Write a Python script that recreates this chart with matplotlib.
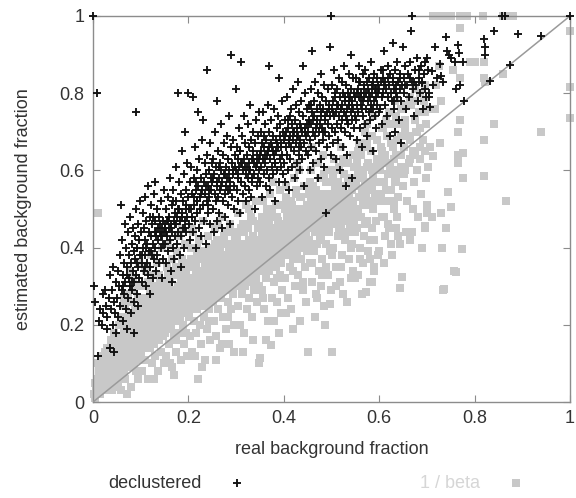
import numpy as np
import matplotlib
matplotlib.use('Agg')
import matplotlib.pyplot as plt

# (real, estimated) pairs, grouped by strips of real fraction
declustered = [
    # 0.00 - 0.05
    (0.002, 0.30), (0.004, 0.26), (0.008, 0.80), (0.010, 0.12), (0.012, 0.21), (0.015, 0.24), (0.018, 0.20),
    (0.020, 0.28), (0.022, 0.23), (0.026, 0.29), (0.028, 0.25), (0.030, 0.22), (0.033, 0.27), (0.035, 0.14),
    (0.036, 0.33), (0.038, 0.24), (0.040, 0.29), (0.042, 0.20), (0.044, 0.26), (0.046, 0.23), (0.048, 0.31),
    (0.049, 0.18), (0.045, 0.13), (0.030, 0.19), (0.041, 0.35), (0.000, 1.00),
    # 0.05 - 0.10
    (0.051, 0.27), (0.052, 0.34), (0.053, 0.22), (0.055, 0.30), (0.056, 0.38), (0.057, 0.25), (0.058, 0.51),
    (0.060, 0.29), (0.061, 0.42), (0.062, 0.33), (0.063, 0.21), (0.065, 0.36), (0.066, 0.28), (0.067, 0.46),
    (0.068, 0.31), (0.069, 0.24), (0.070, 0.40), (0.071, 0.35), (0.072, 0.19), (0.073, 0.44), (0.074, 0.27),
    (0.075, 0.32), (0.076, 0.38), (0.077, 0.30), (0.078, 0.48), (0.079, 0.23), (0.080, 0.36), (0.081, 0.41),
    (0.082, 0.29), (0.083, 0.34), (0.084, 0.45), (0.085, 0.39), (0.086, 0.26), (0.087, 0.31), (0.088, 0.43),
    (0.089, 0.37), (0.090, 0.75), (0.090, 0.50), (0.091, 0.33), (0.092, 0.40), (0.093, 0.28), (0.094, 0.46),
    (0.095, 0.35), (0.096, 0.42), (0.097, 0.32), (0.098, 0.38), (0.099, 0.52), (0.085, 0.18), (0.095, 0.25),
    # 0.10 - 0.15
    (0.101, 0.44), (0.102, 0.36), (0.103, 0.31), (0.104, 0.49), (0.105, 0.40), (0.106, 0.34), (0.107, 0.45),
    (0.108, 0.38), (0.109, 0.53), (0.110, 0.42), (0.111, 0.30), (0.112, 0.47), (0.113, 0.36), (0.114, 0.41),
    (0.115, 0.56), (0.116, 0.33), (0.117, 0.44), (0.118, 0.39), (0.119, 0.48), (0.120, 0.35), (0.121, 0.43),
    (0.122, 0.51), (0.123, 0.38), (0.124, 0.46), (0.125, 0.32), (0.126, 0.41), (0.127, 0.37), (0.128, 0.54),
    (0.129, 0.44), (0.130, 0.40), (0.131, 0.47), (0.132, 0.34), (0.133, 0.43), (0.134, 0.50), (0.135, 0.38),
    (0.136, 0.45), (0.137, 0.42), (0.138, 0.36), (0.139, 0.48), (0.140, 0.44), (0.141, 0.46), (0.142, 0.40),
    (0.143, 0.52), (0.144, 0.45), (0.145, 0.43), (0.146, 0.37), (0.147, 0.47), (0.148, 0.55), (0.149, 0.44),
    (0.130, 0.57), (0.120, 0.28), (0.145, 0.32),
    # 0.15 - 0.20
    (0.150, 0.46), (0.151, 0.41), (0.152, 0.44), (0.153, 0.50), (0.154, 0.36), (0.155, 0.47), (0.156, 0.43),
    (0.157, 0.53), (0.158, 0.39), (0.159, 0.45), (0.160, 0.48), (0.161, 0.42), (0.162, 0.58), (0.163, 0.46),
    (0.164, 0.34), (0.165, 0.51), (0.166, 0.44), (0.167, 0.40), (0.168, 0.55), (0.169, 0.47), (0.170, 0.37),
    (0.171, 0.49), (0.172, 0.43), (0.173, 0.61), (0.174, 0.46), (0.175, 0.52), (0.176, 0.41), (0.177, 0.48),
    (0.178, 0.80), (0.179, 0.44), (0.180, 0.57), (0.181, 0.50), (0.182, 0.38), (0.183, 0.47), (0.184, 0.54),
    (0.185, 0.43), (0.186, 0.65), (0.187, 0.49), (0.188, 0.45), (0.189, 0.52), (0.190, 0.40), (0.191, 0.59),
    (0.192, 0.47), (0.193, 0.70), (0.194, 0.55), (0.195, 0.44), (0.196, 0.50), (0.197, 0.62), (0.198, 0.48),
    (0.199, 0.80), (0.165, 0.31), (0.185, 0.35),
    # 0.20 - 0.25
    (0.200, 0.53), (0.201, 0.46), (0.203, 0.57), (0.204, 0.42), (0.205, 0.50), (0.206, 0.61), (0.207, 0.48),
    (0.208, 0.54), (0.209, 0.79), (0.210, 0.44), (0.211, 0.58), (0.212, 0.51), (0.213, 0.66), (0.214, 0.47),
    (0.215, 0.55), (0.216, 0.40), (0.217, 0.52), (0.218, 0.60), (0.219, 0.49), (0.220, 0.75), (0.221, 0.56),
    (0.222, 0.45), (0.223, 0.63), (0.224, 0.53), (0.225, 0.50), (0.226, 0.58), (0.227, 0.43), (0.228, 0.55),
    (0.229, 0.68), (0.230, 0.51), (0.231, 0.73), (0.232, 0.57), (0.233, 0.47), (0.234, 0.62), (0.235, 0.54),
    (0.236, 0.41), (0.237, 0.59), (0.238, 0.52), (0.239, 0.64), (0.240, 0.86), (0.241, 0.56), (0.242, 0.49),
    (0.243, 0.60), (0.244, 0.53), (0.245, 0.67), (0.246, 0.46), (0.247, 0.58), (0.248, 0.55), (0.249, 0.62),
    # 0.25 - 0.30
    (0.250, 0.57), (0.251, 0.50), (0.252, 0.63), (0.253, 0.44), (0.254, 0.59), (0.255, 0.54), (0.256, 0.70),
    (0.257, 0.52), (0.258, 0.61), (0.259, 0.47), (0.260, 0.78), (0.261, 0.56), (0.262, 0.65), (0.263, 0.53),
    (0.264, 0.58), (0.265, 0.49), (0.266, 0.62), (0.267, 0.55), (0.268, 0.72), (0.269, 0.60), (0.270, 0.45),
    (0.271, 0.57), (0.272, 0.64), (0.273, 0.52), (0.274, 0.59), (0.275, 0.67), (0.276, 0.54), (0.277, 0.48),
    (0.278, 0.61), (0.279, 0.56), (0.280, 0.69), (0.281, 0.58), (0.282, 0.51), (0.283, 0.63), (0.284, 0.55),
    (0.285, 0.74), (0.286, 0.60), (0.287, 0.46), (0.288, 0.57), (0.289, 0.66), (0.290, 0.90), (0.291, 0.53),
    (0.292, 0.62), (0.293, 0.59), (0.294, 0.68), (0.295, 0.56), (0.296, 0.50), (0.297, 0.64), (0.298, 0.61),
    (0.299, 0.81),
    # 0.30 - 0.35
    (0.300, 0.60), (0.301, 0.55), (0.302, 0.66), (0.303, 0.52), (0.304, 0.63), (0.305, 0.58), (0.306, 0.71),
    (0.307, 0.61), (0.308, 0.49), (0.309, 0.65), (0.310, 0.88), (0.311, 0.57), (0.312, 0.62), (0.313, 0.69),
    (0.314, 0.54), (0.315, 0.60), (0.316, 0.74), (0.317, 0.63), (0.318, 0.56), (0.319, 0.67), (0.320, 0.59),
    (0.321, 0.52), (0.322, 0.64), (0.323, 0.61), (0.324, 0.72), (0.325, 0.58), (0.326, 0.66), (0.327, 0.55),
    (0.328, 0.62), (0.329, 0.77), (0.330, 0.60), (0.331, 0.68), (0.332, 0.53), (0.333, 0.63), (0.334, 0.57),
    (0.335, 0.70), (0.336, 0.65), (0.337, 0.59), (0.338, 0.62), (0.339, 0.50), (0.340, 0.67), (0.341, 0.73),
    (0.342, 0.61), (0.343, 0.56), (0.344, 0.64), (0.345, 0.69), (0.346, 0.58), (0.347, 0.75), (0.348, 0.63),
    (0.349, 0.60),
    # 0.35 - 0.40
    (0.350, 0.64), (0.351, 0.57), (0.352, 0.70), (0.353, 0.61), (0.354, 0.53), (0.355, 0.67), (0.356, 0.63),
    (0.357, 0.75), (0.358, 0.59), (0.359, 0.66), (0.360, 0.62), (0.361, 0.72), (0.362, 0.56), (0.363, 0.68),
    (0.364, 0.64), (0.365, 0.60), (0.366, 0.77), (0.367, 0.65), (0.368, 0.58), (0.369, 0.70), (0.370, 0.87),
    (0.371, 0.63), (0.372, 0.55), (0.373, 0.67), (0.374, 0.73), (0.375, 0.61), (0.376, 0.66), (0.377, 0.59),
    (0.378, 0.69), (0.379, 0.64), (0.380, 0.76), (0.381, 0.62), (0.382, 0.52), (0.383, 0.68), (0.384, 0.65),
    (0.385, 0.71), (0.386, 0.60), (0.387, 0.74), (0.388, 0.66), (0.389, 0.57), (0.390, 0.84), (0.391, 0.69),
    (0.392, 0.63), (0.393, 0.72), (0.394, 0.61), (0.395, 0.67), (0.396, 0.78), (0.397, 0.64), (0.398, 0.70),
    (0.399, 0.59),
    # 0.40 - 0.45
    (0.400, 0.68), (0.401, 0.62), (0.402, 0.73), (0.403, 0.57), (0.404, 0.66), (0.405, 0.70), (0.406, 0.64),
    (0.407, 0.79), (0.408, 0.60), (0.409, 0.71), (0.410, 0.67), (0.411, 0.55), (0.412, 0.74), (0.413, 0.69),
    (0.414, 0.63), (0.415, 0.76), (0.416, 0.66), (0.417, 0.72), (0.418, 0.61), (0.419, 0.68), (0.420, 0.81),
    (0.421, 0.70), (0.422, 0.65), (0.423, 0.58), (0.424, 0.73), (0.425, 0.67), (0.426, 0.77), (0.427, 0.62),
    (0.428, 0.71), (0.429, 0.69), (0.430, 0.83), (0.431, 0.64), (0.432, 0.75), (0.433, 0.68), (0.434, 0.60),
    (0.435, 0.72), (0.436, 0.66), (0.437, 0.78), (0.438, 0.70), (0.439, 0.63), (0.440, 0.87), (0.441, 0.74),
    (0.442, 0.67), (0.443, 0.56), (0.444, 0.71), (0.445, 0.80), (0.446, 0.69), (0.447, 0.65), (0.448, 0.76),
    (0.449, 0.72),
    # 0.45 - 0.50
    (0.450, 0.70), (0.451, 0.64), (0.452, 0.77), (0.453, 0.73), (0.454, 0.60), (0.455, 0.68), (0.456, 0.81),
    (0.457, 0.72), (0.458, 0.66), (0.459, 0.75), (0.460, 0.91), (0.461, 0.70), (0.462, 0.62), (0.463, 0.78),
    (0.464, 0.74), (0.465, 0.69), (0.466, 0.83), (0.467, 0.71), (0.468, 0.65), (0.469, 0.76), (0.470, 0.73),
    (0.471, 0.58), (0.472, 0.80), (0.473, 0.70), (0.474, 0.67), (0.475, 0.77), (0.476, 0.72), (0.477, 0.85),
    (0.478, 0.63), (0.479, 0.74), (0.480, 0.79), (0.481, 0.71), (0.482, 0.68), (0.483, 0.76), (0.484, 0.61),
    (0.485, 0.82), (0.486, 0.73), (0.487, 0.70), (0.488, 0.78), (0.489, 0.49), (0.490, 0.75), (0.491, 0.66),
    (0.492, 0.81), (0.493, 0.72), (0.494, 0.77), (0.495, 0.69), (0.496, 0.74), (0.497, 0.92), (0.498, 0.64),
    (0.499, 1.00),
    # 0.50 - 0.55
    (0.500, 0.76), (0.501, 0.71), (0.502, 0.82), (0.503, 0.67), (0.504, 0.78), (0.505, 0.74), (0.506, 0.86),
    (0.507, 0.70), (0.508, 0.79), (0.509, 0.63), (0.510, 0.75), (0.511, 0.81), (0.512, 0.72), (0.513, 0.77),
    (0.514, 0.68), (0.515, 0.84), (0.516, 0.74), (0.517, 0.79), (0.518, 0.60), (0.519, 0.76), (0.520, 0.71),
    (0.521, 0.83), (0.522, 0.77), (0.523, 0.73), (0.524, 0.66), (0.525, 0.80), (0.526, 0.75), (0.527, 0.87),
    (0.528, 0.70), (0.529, 0.78), (0.530, 0.74), (0.531, 0.82), (0.532, 0.64), (0.533, 0.76), (0.534, 0.80),
    (0.535, 0.72), (0.536, 0.85), (0.537, 0.77), (0.538, 0.69), (0.539, 0.79), (0.540, 0.75), (0.541, 0.81),
    (0.542, 0.58), (0.543, 0.73), (0.544, 0.78), (0.545, 0.84), (0.546, 0.76), (0.547, 0.71), (0.548, 0.80),
    (0.549, 0.74), (0.530, 0.56), (0.540, 0.90),
    # 0.55 - 0.60
    (0.550, 0.79), (0.551, 0.73), (0.552, 0.84), (0.553, 0.77), (0.554, 0.68), (0.555, 0.81), (0.556, 0.75),
    (0.557, 0.87), (0.558, 0.79), (0.559, 0.71), (0.560, 0.83), (0.561, 0.77), (0.562, 0.80), (0.563, 0.66),
    (0.564, 0.76), (0.565, 0.85), (0.566, 0.78), (0.567, 0.74), (0.568, 0.82), (0.569, 0.79), (0.570, 0.72),
    (0.571, 0.86), (0.572, 0.80), (0.573, 0.76), (0.574, 0.83), (0.575, 0.69), (0.576, 0.78), (0.577, 0.81),
    (0.578, 0.75), (0.579, 0.84), (0.580, 0.79), (0.581, 0.73), (0.582, 0.88), (0.583, 0.77), (0.584, 0.82),
    (0.585, 0.80), (0.586, 0.65), (0.587, 0.76), (0.588, 0.83), (0.589, 0.78), (0.590, 0.85), (0.591, 0.74),
    (0.592, 0.81), (0.593, 0.79), (0.594, 0.71), (0.595, 0.84), (0.596, 0.77), (0.597, 0.82), (0.598, 0.80),
    (0.599, 0.75),
    # 0.60 - 0.65
    (0.600, 0.81), (0.602, 0.76), (0.603, 0.86), (0.605, 0.79), (0.606, 0.72), (0.608, 0.84), (0.609, 0.80),
    (0.610, 0.91), (0.612, 0.77), (0.613, 0.83), (0.615, 0.81), (0.616, 0.74), (0.618, 0.87), (0.619, 0.79),
    (0.620, 0.82), (0.622, 0.69), (0.623, 0.85), (0.625, 0.80), (0.626, 0.78), (0.628, 0.84), (0.629, 0.93),
    (0.631, 0.81), (0.632, 0.76), (0.634, 0.86), (0.635, 0.82), (0.637, 0.79), (0.638, 0.88), (0.640, 0.83),
    (0.641, 0.73), (0.643, 0.81), (0.644, 0.85), (0.646, 0.78), (0.647, 0.82), (0.649, 0.92), (0.645, 0.67),
    (0.633, 0.70),
    # 0.65 - 0.70
    (0.651, 0.84), (0.653, 0.80), (0.655, 0.87), (0.657, 0.76), (0.659, 0.82), (0.661, 0.85), (0.663, 0.79),
    (0.665, 0.88), (0.667, 0.96), (0.668, 1.00), (0.669, 0.83), (0.671, 0.81), (0.673, 0.74), (0.675, 0.86),
    (0.677, 0.82), (0.679, 0.89), (0.681, 0.78), (0.683, 0.84), (0.685, 0.80), (0.687, 0.87), (0.689, 0.83),
    (0.691, 0.76), (0.693, 0.85), (0.695, 0.81), (0.697, 0.88), (0.699, 0.79), (0.690, 0.826),
    # 0.70 and beyond
    (0.700, 0.89), (0.702, 0.86), (0.704, 0.80), (0.705, 0.79), (0.706, 0.765), (0.710, 0.857), (0.712, 0.82),
    (0.718, 0.92), (0.722, 0.84), (0.728, 0.875), (0.730, 0.845), (0.733, 0.83), (0.740, 0.945), (0.742, 0.91),
    (0.746, 0.90), (0.750, 0.89), (0.758, 0.88), (0.760, 0.81), (0.766, 0.925), (0.768, 0.905), (0.770, 0.82),
    (0.776, 0.88), (0.777, 0.78), (0.820, 0.94), (0.822, 0.92), (0.821, 0.90), (0.840, 0.96), (0.890, 0.953),
    (0.940, 0.948), (0.874, 0.874), (0.832, 0.832), (1.000, 1.000), (0.857, 1.00), (0.864, 1.00),
]

# the darkest part of the declustered band
declustered_core = [
    (0.063, 0.30), (0.072, 0.33), (0.081, 0.31), (0.092, 0.36), (0.103, 0.38), (0.112, 0.40), (0.121, 0.39),
    (0.132, 0.44), (0.142, 0.43), (0.151, 0.45), (0.158, 0.47), (0.164, 0.45), (0.171, 0.46), (0.178, 0.50),
    (0.186, 0.48), (0.194, 0.51), (0.202, 0.50), (0.211, 0.53), (0.219, 0.52), (0.227, 0.54), (0.236, 0.56),
    (0.244, 0.55), (0.252, 0.58), (0.261, 0.57), (0.269, 0.56), (0.277, 0.59), (0.286, 0.58), (0.294, 0.60),
    (0.303, 0.59), (0.311, 0.62), (0.319, 0.61), (0.328, 0.60), (0.336, 0.63), (0.344, 0.62), (0.353, 0.65),
    (0.361, 0.64), (0.369, 0.66), (0.378, 0.65), (0.386, 0.67), (0.394, 0.66), (0.403, 0.69), (0.411, 0.68),
    (0.419, 0.70), (0.428, 0.69), (0.436, 0.71), (0.444, 0.70), (0.453, 0.72), (0.461, 0.73), (0.469, 0.72),
    (0.478, 0.75), (0.486, 0.74), (0.494, 0.76), (0.503, 0.75), (0.511, 0.77), (0.519, 0.76), (0.528, 0.79),
    (0.536, 0.78), (0.544, 0.77), (0.553, 0.80), (0.561, 0.79), (0.569, 0.81), (0.578, 0.80), (0.586, 0.82),
    (0.594, 0.81), (0.603, 0.83), (0.611, 0.82), (0.619, 0.84), (0.628, 0.83), (0.636, 0.80), (0.644, 0.84),
    (0.654, 0.82), (0.664, 0.84), (0.674, 0.83), (0.684, 0.86), (0.108, 0.35), (0.125, 0.48), (0.146, 0.41),
    (0.168, 0.52), (0.192, 0.45), (0.215, 0.57), (0.242, 0.51), (0.265, 0.61), (0.288, 0.55), (0.308, 0.65),
    (0.334, 0.58), (0.358, 0.69), (0.382, 0.62), (0.408, 0.73), (0.432, 0.66), (0.457, 0.77), (0.482, 0.70),
    (0.507, 0.80), (0.532, 0.73), (0.557, 0.83), (0.582, 0.76), (0.607, 0.86), (0.632, 0.78),
]

beta_inv = [
    # 0.00 - 0.05
    (0.002, 0.02), (0.004, 0.05), (0.005, 0.01), (0.007, 0.03), (0.008, 0.06), (0.010, 0.49), (0.011, 0.04),
    (0.012, 0.08), (0.014, 0.02), (0.015, 0.06), (0.017, 0.10), (0.018, 0.04), (0.020, 0.07), (0.021, 0.12),
    (0.023, 0.05), (0.024, 0.09), (0.026, 0.03), (0.027, 0.11), (0.029, 0.07), (0.030, 0.14), (0.031, 0.05),
    (0.033, 0.09), (0.034, 0.12), (0.036, 0.06), (0.037, 0.16), (0.038, 0.10), (0.040, 0.08), (0.041, 0.13),
    (0.042, 0.04), (0.044, 0.11), (0.045, 0.18), (0.046, 0.07), (0.047, 0.14), (0.048, 0.10), (0.049, 0.06),
    (0.043, 0.16), (0.039, 0.03), (0.025, 0.13), (0.016, 0.08), (0.009, 0.10),
    # 0.05 - 0.10
    (0.050, 0.12), (0.051, 0.08), (0.052, 0.16), (0.053, 0.05), (0.054, 0.11), (0.055, 0.20), (0.056, 0.14),
    (0.057, 0.09), (0.058, 0.03), (0.059, 0.17), (0.060, 0.12), (0.061, 0.22), (0.062, 0.07), (0.063, 0.15),
    (0.064, 0.10), (0.065, 0.19), (0.066, 0.13), (0.067, 0.25), (0.068, 0.06), (0.069, 0.16), (0.070, 0.11),
    (0.071, 0.21), (0.072, 0.14), (0.073, 0.28), (0.074, 0.09), (0.075, 0.18), (0.076, 0.13), (0.077, 0.23),
    (0.078, 0.16), (0.079, 0.04), (0.080, 0.20), (0.081, 0.12), (0.082, 0.26), (0.083, 0.15), (0.084, 0.32),
    (0.085, 0.10), (0.086, 0.19), (0.087, 0.14), (0.088, 0.24), (0.089, 0.17), (0.090, 0.08), (0.091, 0.21),
    (0.092, 0.30), (0.093, 0.13), (0.094, 0.18), (0.095, 0.27), (0.096, 0.16), (0.097, 0.36), (0.098, 0.11),
    (0.099, 0.22), (0.094, 0.06), (0.086, 0.29), (0.078, 0.34), (0.065, 0.27), (0.071, 0.02),
    # 0.10 - 0.15
    (0.100, 0.19), (0.101, 0.13), (0.102, 0.25), (0.103, 0.08), (0.104, 0.17), (0.105, 0.30), (0.106, 0.21),
    (0.107, 0.15), (0.108, 0.35), (0.109, 0.23), (0.110, 0.11), (0.111, 0.19), (0.112, 0.27), (0.113, 0.16),
    (0.114, 0.22), (0.115, 0.06), (0.116, 0.31), (0.117, 0.18), (0.118, 0.25), (0.119, 0.14), (0.120, 0.21),
    (0.121, 0.38), (0.122, 0.17), (0.123, 0.28), (0.124, 0.10), (0.125, 0.23), (0.126, 0.19), (0.127, 0.33),
    (0.128, 0.15), (0.129, 0.26), (0.130, 0.21), (0.131, 0.12), (0.132, 0.29), (0.133, 0.18), (0.134, 0.24),
    (0.135, 0.36), (0.136, 0.20), (0.137, 0.08), (0.138, 0.27), (0.139, 0.16), (0.140, 0.22), (0.141, 0.31),
    (0.142, 0.19), (0.143, 0.13), (0.144, 0.25), (0.145, 0.40), (0.146, 0.21), (0.147, 0.17), (0.148, 0.28),
    (0.149, 0.10), (0.127, 0.06), (0.112, 0.34), (0.138, 0.33), (0.104, 0.24), (0.119, 0.29),
    # 0.15 - 0.20
    (0.150, 0.24), (0.151, 0.18), (0.152, 0.30), (0.153, 0.12), (0.154, 0.22), (0.155, 0.35), (0.156, 0.26),
    (0.157, 0.20), (0.158, 0.41), (0.159, 0.28), (0.160, 0.15), (0.161, 0.24), (0.162, 0.32), (0.163, 0.19),
    (0.164, 0.27), (0.165, 0.09), (0.166, 0.37), (0.167, 0.22), (0.168, 0.29), (0.169, 0.17), (0.170, 0.07),
    (0.171, 0.25), (0.172, 0.33), (0.173, 0.21), (0.174, 0.28), (0.175, 0.13), (0.176, 0.39), (0.177, 0.24),
    (0.178, 0.30), (0.179, 0.18), (0.180, 0.26), (0.181, 0.43), (0.182, 0.22), (0.183, 0.34), (0.184, 0.11),
    (0.185, 0.28), (0.186, 0.25), (0.187, 0.37), (0.188, 0.20), (0.189, 0.31), (0.190, 0.15), (0.191, 0.27),
    (0.192, 0.23), (0.193, 0.41), (0.194, 0.29), (0.195, 0.18), (0.196, 0.33), (0.197, 0.26), (0.198, 0.12),
    (0.199, 0.30), (0.157, 0.33), (0.173, 0.16), (0.186, 0.45), (0.162, 0.10), (0.194, 0.36),
    # 0.20 - 0.25
    (0.200, 0.28), (0.201, 0.22), (0.202, 0.35), (0.203, 0.17), (0.204, 0.30), (0.205, 0.40), (0.206, 0.25),
    (0.207, 0.32), (0.208, 0.13), (0.209, 0.27), (0.210, 0.44), (0.211, 0.29), (0.212, 0.21), (0.213, 0.36),
    (0.214, 0.26), (0.215, 0.33), (0.216, 0.18), (0.217, 0.38), (0.218, 0.29), (0.219, 0.24), (0.220, 0.06),
    (0.221, 0.31), (0.222, 0.42), (0.223, 0.27), (0.224, 0.20), (0.225, 0.34), (0.226, 0.30), (0.227, 0.15),
    (0.228, 0.37), (0.229, 0.25), (0.230, 0.32), (0.231, 0.47), (0.232, 0.28), (0.233, 0.22), (0.234, 0.35),
    (0.235, 0.11), (0.236, 0.30), (0.237, 0.39), (0.238, 0.26), (0.239, 0.33), (0.240, 0.19), (0.241, 0.29),
    (0.242, 0.43), (0.243, 0.36), (0.244, 0.24), (0.245, 0.31), (0.246, 0.16), (0.247, 0.38), (0.248, 0.27),
    (0.249, 0.34), (0.213, 0.12), (0.228, 0.09), (0.243, 0.21), (0.207, 0.45), (0.219, 0.40),
    # 0.25 - 0.30
    (0.250, 0.32), (0.251, 0.26), (0.252, 0.39), (0.253, 0.21), (0.254, 0.34), (0.255, 0.45), (0.256, 0.29),
    (0.257, 0.36), (0.258, 0.17), (0.259, 0.31), (0.260, 0.42), (0.261, 0.33), (0.262, 0.24), (0.263, 0.38),
    (0.264, 0.28), (0.265, 0.35), (0.266, 0.14), (0.267, 0.40), (0.268, 0.30), (0.269, 0.27), (0.270, 0.37),
    (0.271, 0.48), (0.272, 0.32), (0.273, 0.22), (0.274, 0.35), (0.275, 0.41), (0.276, 0.29), (0.277, 0.34),
    (0.278, 0.19), (0.279, 0.38), (0.280, 0.31), (0.281, 0.44), (0.282, 0.26), (0.283, 0.36), (0.284, 0.33),
    (0.285, 0.15), (0.286, 0.39), (0.287, 0.30), (0.288, 0.46), (0.289, 0.35), (0.290, 0.24), (0.291, 0.32),
    (0.292, 0.40), (0.293, 0.28), (0.294, 0.37), (0.295, 0.20), (0.296, 0.34), (0.297, 0.43), (0.298, 0.31),
    (0.299, 0.38), (0.270, 0.15), (0.262, 0.46), (0.284, 0.22), (0.296, 0.13), (0.258, 0.11),
    # 0.30 - 0.35
    (0.300, 0.36), (0.301, 0.30), (0.302, 0.42), (0.303, 0.25), (0.304, 0.38), (0.305, 0.49), (0.306, 0.33),
    (0.307, 0.40), (0.308, 0.20), (0.309, 0.35), (0.310, 0.45), (0.311, 0.37), (0.312, 0.28), (0.313, 0.41),
    (0.314, 0.32), (0.315, 0.39), (0.316, 0.18), (0.317, 0.44), (0.318, 0.34), (0.319, 0.30), (0.320, 0.40),
    (0.321, 0.51), (0.322, 0.36), (0.323, 0.24), (0.324, 0.38), (0.325, 0.46), (0.326, 0.33), (0.327, 0.42),
    (0.328, 0.27), (0.329, 0.37), (0.330, 0.35), (0.331, 0.48), (0.332, 0.31), (0.333, 0.40), (0.334, 0.22),
    (0.335, 0.38), (0.336, 0.43), (0.337, 0.34), (0.338, 0.29), (0.339, 0.41), (0.340, 0.36), (0.341, 0.52),
    (0.342, 0.32), (0.343, 0.39), (0.344, 0.26), (0.345, 0.45), (0.346, 0.37), (0.347, 0.30), (0.348, 0.42),
    (0.349, 0.35), (0.350, 0.115), (0.348, 0.10), (0.335, 0.16), (0.315, 0.13), (0.327, 0.50),
    # 0.35 - 0.40
    (0.351, 0.40), (0.352, 0.34), (0.353, 0.46), (0.354, 0.29), (0.355, 0.42), (0.356, 0.52), (0.357, 0.37),
    (0.358, 0.44), (0.359, 0.24), (0.360, 0.39), (0.361, 0.48), (0.362, 0.41), (0.363, 0.32), (0.364, 0.45),
    (0.365, 0.36), (0.366, 0.43), (0.367, 0.21), (0.368, 0.47), (0.369, 0.38), (0.370, 0.34), (0.371, 0.44),
    (0.372, 0.54), (0.373, 0.148), (0.374, 0.40), (0.375, 0.27), (0.376, 0.49), (0.377, 0.37), (0.378, 0.45),
    (0.379, 0.31), (0.380, 0.21), (0.381, 0.42), (0.382, 0.39), (0.383, 0.51), (0.384, 0.35), (0.385, 0.44),
    (0.386, 0.26), (0.387, 0.40), (0.388, 0.47), (0.389, 0.38), (0.390, 0.18), (0.391, 0.43), (0.392, 0.33),
    (0.393, 0.55), (0.394, 0.41), (0.395, 0.36), (0.396, 0.46), (0.397, 0.29), (0.398, 0.42), (0.399, 0.39),
    (0.362, 0.16), (0.378, 0.57), (0.394, 0.23), (0.356, 0.27), (0.370, 0.50), (0.386, 0.32),
    # 0.40 - 0.45
    (0.400, 0.44), (0.401, 0.38), (0.402, 0.50), (0.403, 0.32), (0.404, 0.46), (0.405, 0.56), (0.406, 0.41),
    (0.407, 0.48), (0.408, 0.27), (0.409, 0.43), (0.410, 0.52), (0.411, 0.45), (0.412, 0.35), (0.413, 0.49),
    (0.414, 0.40), (0.415, 0.47), (0.416, 0.24), (0.417, 0.51), (0.418, 0.42), (0.419, 0.37), (0.420, 0.46),
    (0.421, 0.58), (0.422, 0.44), (0.423, 0.30), (0.424, 0.49), (0.425, 0.41), (0.426, 0.54), (0.427, 0.39),
    (0.428, 0.47), (0.429, 0.33), (0.430, 0.44), (0.431, 0.60), (0.432, 0.40), (0.433, 0.50), (0.434, 0.21),
    (0.435, 0.45), (0.436, 0.37), (0.437, 0.53), (0.438, 0.43), (0.439, 0.48), (0.440, 0.29), (0.441, 0.46),
    (0.442, 0.41), (0.443, 0.56), (0.444, 0.35), (0.445, 0.49), (0.446, 0.44), (0.447, 0.26), (0.448, 0.51),
    (0.449, 0.39), (0.450, 0.13), (0.419, 0.19), (0.405, 0.23), (0.428, 0.62),
    # 0.45 - 0.50
    (0.451, 0.48), (0.452, 0.42), (0.453, 0.54), (0.454, 0.36), (0.455, 0.50), (0.456, 0.60), (0.457, 0.45),
    (0.458, 0.52), (0.459, 0.31), (0.460, 0.47), (0.461, 0.56), (0.462, 0.49), (0.463, 0.39), (0.464, 0.53),
    (0.465, 0.44), (0.466, 0.51), (0.467, 0.28), (0.468, 0.55), (0.469, 0.46), (0.470, 0.41), (0.471, 0.50),
    (0.472, 0.62), (0.473, 0.48), (0.474, 0.34), (0.475, 0.53), (0.476, 0.45), (0.477, 0.58), (0.478, 0.43),
    (0.479, 0.51), (0.480, 0.37), (0.481, 0.48), (0.482, 0.64), (0.483, 0.44), (0.484, 0.54), (0.485, 0.25),
    (0.486, 0.20), (0.487, 0.49), (0.488, 0.41), (0.489, 0.57), (0.490, 0.47), (0.491, 0.52), (0.492, 0.33),
    (0.493, 0.50), (0.494, 0.45), (0.495, 0.60), (0.496, 0.39), (0.497, 0.53), (0.498, 0.48), (0.499, 0.29),
    (0.497, 0.255), (0.500, 0.13), (0.466, 0.22), (0.478, 0.30), (0.459, 0.66), (0.488, 0.35),
    # 0.50 - 0.55
    (0.501, 0.52), (0.502, 0.46), (0.503, 0.58), (0.504, 0.40), (0.505, 0.54), (0.506, 0.63), (0.507, 0.49),
    (0.508, 0.56), (0.509, 0.35), (0.510, 0.51), (0.511, 0.60), (0.512, 0.47), (0.513, 0.43), (0.514, 0.57),
    (0.515, 0.50), (0.516, 0.55), (0.517, 0.31), (0.518, 0.53), (0.519, 0.45), (0.520, 0.66), (0.521, 0.49),
    (0.522, 0.38), (0.523, 0.56), (0.524, 0.52), (0.525, 0.28), (0.526, 0.59), (0.527, 0.47), (0.528, 0.54),
    (0.529, 0.42), (0.530, 0.50), (0.531, 0.62), (0.532, 0.26), (0.533, 0.48), (0.534, 0.57), (0.535, 0.44),
    (0.536, 0.53), (0.537, 0.37), (0.538, 0.51), (0.539, 0.46), (0.540, 0.32), (0.541, 0.58), (0.542, 0.49),
    (0.543, 0.41), (0.544, 0.55), (0.545, 0.52), (0.546, 0.34), (0.547, 0.47), (0.548, 0.61), (0.549, 0.44),
    (0.556, 0.33),
    # 0.55 - 0.60
    (0.551, 0.56), (0.552, 0.50), (0.553, 0.62), (0.554, 0.45), (0.555, 0.58), (0.557, 0.67), (0.558, 0.53),
    (0.559, 0.40), (0.560, 0.60), (0.561, 0.48), (0.562, 0.64), (0.564, 0.55), (0.565, 0.36), (0.566, 0.51),
    (0.567, 0.59), (0.569, 0.43), (0.570, 0.57), (0.571, 0.70), (0.572, 0.285), (0.573, 0.54), (0.574, 0.47),
    (0.576, 0.62), (0.577, 0.39), (0.578, 0.56), (0.580, 0.31), (0.580, 0.37), (0.581, 0.52), (0.582, 0.65),
    (0.584, 0.45), (0.585, 0.31), (0.586, 0.58), (0.587, 0.50), (0.589, 0.42), (0.590, 0.34), (0.591, 0.61),
    (0.592, 0.54), (0.594, 0.47), (0.595, 0.68), (0.596, 0.57), (0.597, 0.38), (0.598, 0.52), (0.599, 0.63),
    (0.575, 0.72), (0.588, 0.74), (0.563, 0.28),
    # 0.60 - 0.65
    (0.601, 0.60), (0.603, 0.54), (0.604, 0.66), (0.606, 0.48), (0.607, 0.62), (0.609, 0.71), (0.610, 0.57),
    (0.612, 0.43), (0.613, 0.64), (0.615, 0.52), (0.616, 0.69), (0.618, 0.59), (0.619, 0.46), (0.621, 0.75),
    (0.622, 0.61), (0.624, 0.55), (0.625, 0.41), (0.627, 0.38), (0.628, 0.66), (0.630, 0.50), (0.631, 0.63),
    (0.633, 0.57), (0.634, 0.78), (0.636, 0.45), (0.637, 0.68), (0.639, 0.53), (0.640, 0.60), (0.642, 0.72),
    (0.644, 0.41), (0.644, 0.295), (0.646, 0.64), (0.648, 0.325), (0.649, 0.56), (0.611, 0.36), (0.638, 0.48),
    # 0.65 - 0.70
    (0.651, 0.66), (0.653, 0.59), (0.655, 0.73), (0.656, 0.44), (0.658, 0.52), (0.660, 0.69), (0.662, 0.62),
    (0.665, 0.42), (0.666, 0.77), (0.668, 0.44), (0.670, 0.50), (0.671, 0.65), (0.673, 0.57), (0.675, 0.81),
    (0.677, 0.70), (0.679, 0.60), (0.680, 0.70), (0.682, 0.48), (0.684, 0.75), (0.686, 0.63), (0.688, 0.54),
    (0.690, 0.40), (0.692, 0.68), (0.694, 0.78), (0.696, 0.45), (0.697, 0.455), (0.698, 0.58), (0.699, 0.72),
    # 0.70 - 0.80
    (0.700, 0.51), (0.701, 0.49), (0.702, 0.61), (0.703, 0.76), (0.706, 0.66), (0.710, 0.48), (0.712, 0.637),
    (0.718, 0.76), (0.720, 0.82), (0.727, 0.67), (0.730, 0.49), (0.730, 0.78), (0.731, 0.40), (0.733, 0.29),
    (0.736, 0.293), (0.740, 0.45), (0.744, 0.545), (0.750, 0.505), (0.756, 0.34), (0.760, 0.337),
    (0.765, 0.64), (0.765, 0.70), (0.765, 0.62), (0.770, 0.73), (0.770, 0.84), (0.774, 0.397), (0.776, 0.645),
    (0.776, 0.58), (0.770, 0.97), (0.713, 1.00), (0.722, 1.00), (0.730, 1.00), (0.740, 1.00), (0.750, 1.00),
    (0.770, 1.00), (0.785, 1.00), (0.790, 0.88), (0.755, 0.86), (0.725, 0.87),
    # 0.80 - 1.00
    (0.800, 0.88), (0.818, 1.00), (0.820, 0.88), (0.820, 0.84), (0.822, 0.83), (0.820, 0.68), (0.820, 0.585),
    (0.840, 0.72), (0.860, 0.85), (0.860, 1.00), (0.866, 0.52), (0.870, 1.00), (0.880, 1.00), (0.940, 0.70),
    (1.000, 0.96), (1.000, 0.815), (1.000, 0.735),
]

# the solid grey core of the 1 / beta band
beta_inv_core = [
    (0.006, 0.04), (0.013, 0.05), (0.019, 0.09), (0.028, 0.08), (0.035, 0.11), (0.043, 0.09), (0.047, 0.12),
    (0.055, 0.09), (0.055, 0.13), (0.055, 0.17), (0.065, 0.08), (0.065, 0.12), (0.065, 0.18),
    (0.075, 0.10), (0.075, 0.15), (0.075, 0.21), (0.085, 0.12), (0.085, 0.16), (0.085, 0.22),
    (0.095, 0.14), (0.095, 0.19), (0.095, 0.24), (0.105, 0.14), (0.105, 0.20), (0.105, 0.27),
    (0.115, 0.16), (0.115, 0.21), (0.115, 0.26), (0.125, 0.17), (0.125, 0.22), (0.125, 0.30),
    (0.135, 0.18), (0.135, 0.24), (0.135, 0.28), (0.145, 0.19), (0.145, 0.23), (0.145, 0.30),
    (0.155, 0.20), (0.155, 0.26), (0.155, 0.31), (0.165, 0.21), (0.165, 0.25), (0.165, 0.33),
    (0.175, 0.22), (0.175, 0.28), (0.175, 0.35), (0.185, 0.23), (0.185, 0.27), (0.185, 0.32),
    (0.195, 0.24), (0.195, 0.29), (0.195, 0.35), (0.205, 0.24), (0.205, 0.31), (0.205, 0.37),
    (0.215, 0.27), (0.215, 0.30), (0.215, 0.35), (0.225, 0.26), (0.225, 0.33), (0.225, 0.39),
    (0.235, 0.27), (0.235, 0.32), (0.235, 0.37), (0.245, 0.29), (0.245, 0.34), (0.245, 0.40),
    (0.255, 0.28), (0.255, 0.35), (0.255, 0.41), (0.265, 0.31), (0.265, 0.34), (0.265, 0.39),
    (0.275, 0.30), (0.275, 0.37), (0.275, 0.43), (0.285, 0.32), (0.285, 0.36), (0.285, 0.41),
    (0.295, 0.33), (0.295, 0.39), (0.295, 0.44), (0.305, 0.31), (0.305, 0.38), (0.305, 0.44),
    (0.315, 0.35), (0.315, 0.40), (0.315, 0.46), (0.325, 0.33), (0.325, 0.39), (0.325, 0.45),
    (0.335, 0.36), (0.335, 0.42), (0.335, 0.47), (0.345, 0.34), (0.345, 0.40), (0.345, 0.46),
    (0.355, 0.35), (0.355, 0.43), (0.355, 0.48), (0.365, 0.38), (0.365, 0.42), (0.365, 0.50),
    (0.375, 0.36), (0.375, 0.45), (0.375, 0.49), (0.385, 0.39), (0.385, 0.43), (0.385, 0.48),
    (0.395, 0.37), (0.395, 0.46), (0.395, 0.51), (0.405, 0.40), (0.405, 0.45), (0.405, 0.53),
    (0.415, 0.38), (0.415, 0.48), (0.415, 0.52), (0.425, 0.42), (0.425, 0.46), (0.425, 0.55),
    (0.435, 0.40), (0.435, 0.49), (0.435, 0.53), (0.445, 0.43), (0.445, 0.47), (0.445, 0.56),
    (0.455, 0.41), (0.455, 0.50), (0.455, 0.57), (0.465, 0.45), (0.465, 0.49), (0.465, 0.55),
    (0.475, 0.42), (0.475, 0.52), (0.475, 0.58), (0.485, 0.46), (0.485, 0.51), (0.485, 0.59),
    (0.495, 0.44), (0.495, 0.54), (0.495, 0.57), (0.505, 0.47), (0.505, 0.53), (0.505, 0.60),
    (0.515, 0.45), (0.515, 0.56), (0.515, 0.61), (0.525, 0.49), (0.525, 0.55), (0.525, 0.63),
    (0.535, 0.47), (0.535, 0.58), (0.535, 0.62), (0.545, 0.51), (0.545, 0.56), (0.545, 0.64),
    (0.555, 0.49), (0.555, 0.60), (0.555, 0.65), (0.565, 0.53), (0.565, 0.58), (0.565, 0.66),
    (0.575, 0.51), (0.575, 0.61), (0.575, 0.67), (0.585, 0.55), (0.585, 0.60), (0.585, 0.69),
    (0.595, 0.53), (0.595, 0.63), (0.595, 0.68), (0.605, 0.57), (0.605, 0.65), (0.605, 0.71),
    (0.615, 0.55), (0.615, 0.62), (0.615, 0.73), (0.625, 0.59), (0.625, 0.67), (0.625, 0.72),
    (0.635, 0.58), (0.635, 0.64), (0.635, 0.74), (0.645, 0.61), (0.645, 0.69), (0.645, 0.76),
    (0.655, 0.60), (0.655, 0.71), (0.655, 0.77), (0.665, 0.63), (0.665, 0.68), (0.665, 0.79),
    (0.675, 0.64), (0.675, 0.73), (0.675, 0.78), (0.685, 0.66), (0.685, 0.71), (0.685, 0.80),
    (0.695, 0.65), (0.695, 0.75), (0.695, 0.82),
    (0.420, 0.34), (0.440, 0.31), (0.460, 0.36), (0.480, 0.33), (0.500, 0.38), (0.520, 0.35), (0.540, 0.40),
    (0.560, 0.37), (0.580, 0.42), (0.600, 0.39), (0.620, 0.45), (0.640, 0.43), (0.470, 0.27), (0.510, 0.30),
    (0.550, 0.32), (0.590, 0.35), (0.530, 0.44), (0.570, 0.46), (0.610, 0.48), (0.630, 0.52),
]

ticks = [0, 0.2, 0.4, 0.6, 0.8, 1]
tick_labels = ['0', '0.2', '0.4', '0.6', '0.8', '1']

decl_x, decl_y = np.array(declustered + declustered_core).T
beta_x, beta_y = np.array(beta_inv + beta_inv_core).T

plt.rcParams['font.family'] = ['Liberation Sans', 'DejaVu Sans']
text_col = '#333333'
frame_col = '#8c8c8c'
grey_col = '#c8c8c8'

fig = plt.figure(figsize=(5.76, 4.98), dpi=100)
ax = fig.add_axes([93 / 576, 96 / 498, 477 / 576, 386 / 498])

ax.scatter(beta_x, beta_y, marker='s', s=26, linewidths=0, color=grey_col, clip_on=False, zorder=2)
ax.plot([0, 1], [0, 1], color='#9a9a9a', linewidth=1.1, zorder=3)
ax.scatter(decl_x, decl_y, marker='+', s=26, linewidths=1.35, color='#111111', clip_on=False, zorder=4)

ax.set_xlim(0, 1)
ax.set_ylim(0, 1)
ax.set_xticks(ticks)
ax.set_xticklabels(tick_labels)
ax.set_yticks(ticks)
ax.set_yticklabels(tick_labels)
ax.tick_params(direction='in', length=5, width=0.8, color=frame_col, labelcolor=text_col,
               labelsize=13, top=True, right=True, pad=6)
for sp in ax.spines.values():
    sp.set_color(frame_col)
    sp.set_linewidth(1.0)

ax.set_xlabel('real background fraction', fontsize=13, color=text_col)
ax.set_ylabel('estimated background fraction', fontsize=13, color=text_col)
ax.xaxis.set_label_coords(0.5, -0.1)
ax.yaxis.set_label_coords(-0.127, 0.5)

# key below the plot, gnuplot style: text then sample point
key_y = 1 - 483 / 498
fig.text(202 / 576, key_y, 'declustered', ha='right', va='center', fontsize=13, color=text_col)
fig.text(480 / 576, key_y, '1 / beta', ha='right', va='center', fontsize=13, color='#d6d6d6')
ax.scatter([237 / 576], [key_y], marker='+', s=26, linewidths=1.35, color='#111111',
           transform=fig.transFigure, clip_on=False)
ax.scatter([516 / 576], [key_y], marker='s', s=26, linewidths=0, color=grey_col,
           transform=fig.transFigure, clip_on=False)

fig.savefig('out.png', dpi=100)
